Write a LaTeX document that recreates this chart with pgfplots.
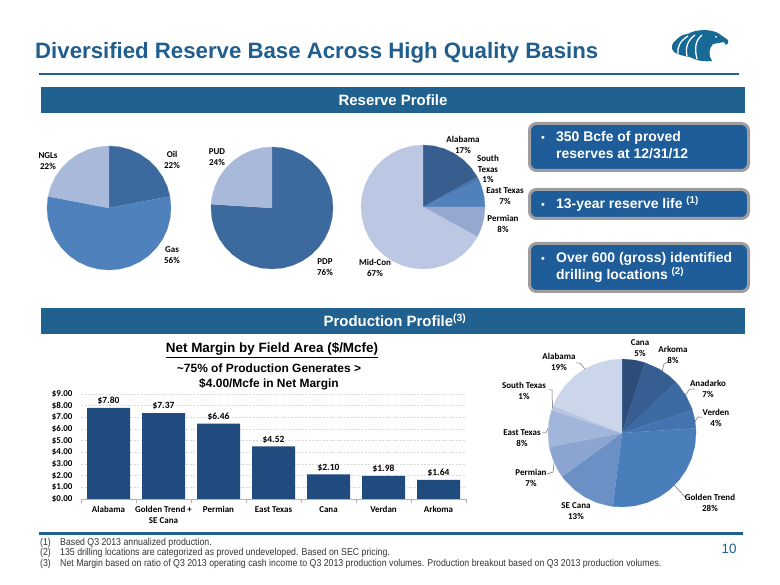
\documentclass[border=0pt]{standalone}
\usepackage{pgfplots}
\pgfplotsset{compat=1.18}
\usepackage{fontspec}
\setmainfont{Liberation Sans}
\newfontfamily\calfont{Carlito}
\newfontfamily\narrowfont{Liberation Sans}[FakeStretch=0.88]

\definecolor{titleblue}{HTML}{1F5E8E}
\definecolor{bannerblue}{HTML}{20618F}
\definecolor{logoblue}{HTML}{176996}
\definecolor{calloutblue}{HTML}{1F5D9A}
\definecolor{bordergray}{HTML}{9E9E9E}
\definecolor{barblue}{HTML}{1F4B7F}
% pie 1-3
\definecolor{pdark}{HTML}{3D6A9E}
\definecolor{pmid}{HTML}{4F81BD}
\definecolor{plight}{HTML}{A8B9DA}
\definecolor{pthree}{HTML}{385E90}
\definecolor{psouth}{HTML}{4A77AE}
\definecolor{pperm}{HTML}{95A8D0}
\definecolor{pmidcon}{HTML}{BCC8E3}
% pie 4
\definecolor{qa}{HTML}{2C4D7A}
\definecolor{qb}{HTML}{365E92}
\definecolor{qc}{HTML}{3C6AA3}
\definecolor{qd}{HTML}{4573B2}
\definecolor{qe}{HTML}{4A7EBB}
\definecolor{qf}{HTML}{6A90C6}
\definecolor{qg}{HTML}{8CA5D0}
\definecolor{qh}{HTML}{A2B5DA}
\definecolor{qi}{HTML}{B8C6E2}
\definecolor{qj}{HTML}{CCD6EA}

\pgfplotsset{
  pie/.style={scale only axis, hide axis, xmin=-1, xmax=1, ymin=-1, ymax=1,
    anchor=center, clip=false},
  wedge/.style={data cs=polar, fill=#1, draw=#1, line width=0.2bp, line join=round},
  leader/.style={data cs=polar, draw=black!60, line width=0.5bp},
}
\tikzset{plab/.style={font=\calfont\bfseries\fontsize{9}{10.5}\selectfont, align=center, inner sep=0pt}}

\begin{document}
\begin{tikzpicture}[x=1bp,y=1bp]
\fill[white] (0,0) rectangle (780,585);
\path[use as bounding box] (0,0) rectangle (780,585);

% title
\node[anchor=base west, inner sep=0, text=titleblue, font=\bfseries\fontsize{22.3}{26}\selectfont] at (35,526) {Diversified Reserve Base Across High Quality Basins};
% logo
\fill[logoblue] (676,545) .. controls (680,549) and (684,551) .. (688,551)
  .. controls (696,556) and (710,556) .. (718,552)
  -- (728,545) .. controls (729,543) and (728,541) .. (726,540) -- (724,543) -- (719,542) -- (713,541)
  .. controls (709,537) and (708,530) .. (712,524)
  .. controls (705,523) and (697,524) .. (690,528)
  .. controls (684,529) and (678,530) .. (674,533)
  .. controls (670,537) and (672,542) .. (676,545) -- cycle;
\draw[white, line width=1.3bp] (688,549) .. controls (680,544) and (677,538) .. (678,531);
\draw[white, line width=1.3bp] (695,550) .. controls (688,545) and (685,538) .. (687,529);
\draw[white, line width=1.3bp] (702,550) .. controls (696,545) and (694,538) .. (697,526);
\fill[white] (716,548) circle (1.0);

% rule under title
\draw[bannerblue, line width=2bp] (39,511) -- (739,511);

% banners
\fill[bannerblue] (41,498) rectangle (745,472);
\node[anchor=base, inner sep=0, text=white, font=\bfseries\fontsize{15}{18}\selectfont] at (393,479.5) {Reserve Profile};
\fill[bannerblue] (41,277) rectangle (745,251);
\node[anchor=base, inner sep=0, text=white, font=\bfseries\fontsize{15}{18}\selectfont] at (395,258.5) {Production Profile\textsuperscript{(3)}};

% ---------- Pie 1: Oil/Gas/NGLs
\begin{axis}[pie, at={(109bp,377bp)}, width=124bp, height=124bp]
\addplot[wedge=pdark] coordinates {(0,0)(90,1)(80,1)(70,1)(60,1)(50,1)(40,1)(30,1)(20,1)(10.8,1)};
\addplot[wedge=pmid] coordinates {(0,0)(10.8,1)(0,1)(-10,1)(-20,1)(-30,1)(-40,1)(-50,1)(-60,1)(-70,1)(-80,1)(-90,1)(-100,1)(-110,1)(-120,1)(-130,1)(-140,1)(-150,1)(-160,1)(-170,1)(-180,1)(-190,1)(-190.8,1)};
\addplot[wedge=plight] coordinates {(0,0)(169.2,1)(160,1)(150,1)(140,1)(130,1)(120,1)(110,1)(100,1)(90,1)};
\end{axis}
\node[plab] at (48,424) {NGLs\\22\%};
\node[plab] at (172,425) {Oil\\22\%};
\node[plab] at (172,330) {Gas\\56\%};

% ---------- Pie 2: PDP/PUD
\begin{axis}[pie, at={(272bp,377bp)}, width=122bp, height=122bp]
\addplot[wedge=pdark] coordinates {(0,0)(90,1)(80,1)(70,1)(60,1)(50,1)(40,1)(30,1)(20,1)(10,1)(0,1)(-10,1)(-20,1)(-30,1)(-40,1)(-50,1)(-60,1)(-70,1)(-80,1)(-90,1)(-100,1)(-110,1)(-120,1)(-130,1)(-140,1)(-150,1)(-160,1)(-170,1)(-180,1)(-183.6,1)};
\addplot[wedge=plight] coordinates {(0,0)(176.4,1)(170,1)(160,1)(150,1)(140,1)(130,1)(120,1)(110,1)(100,1)(90,1)};
\end{axis}
\node[plab] at (217,428) {PUD\\24\%};
\node[plab] at (325,318) {PDP\\76\%};

% ---------- Pie 3: regions
\begin{axis}[pie, at={(423bp,378bp)}, width=124bp, height=124bp]
\addplot[wedge=pthree] coordinates {(0,0)(90,1)(80,1)(70,1)(60,1)(50,1)(40,1)(30,1)(28.8,1)};
\addplot[wedge=psouth] coordinates {(0,0)(28.8,1)(25.2,1)};
\addplot[wedge=pmid] coordinates {(0,0)(25.2,1)(20,1)(10,1)(0,1)};
\addplot[wedge=pperm] coordinates {(0,0)(0,1)(-10,1)(-20,1)(-28.8,1)};
\addplot[wedge=pmidcon] coordinates {(0,0)(-28.8,1)(-30,1)(-40,1)(-50,1)(-60,1)(-70,1)(-80,1)(-90,1)(-100,1)(-110,1)(-120,1)(-130,1)(-140,1)(-150,1)(-160,1)(-170,1)(-180,1)(-190,1)(-200,1)(-210,1)(-220,1)(-230,1)(-240,1)(-250,1)(-260,1)(-270,1)};
\end{axis}
\node[plab] at (463,440) {Alabama\\17\%};
\node[plab] at (488,416) {South\\Texas\\1\%};
\node[plab] at (505,389) {East Texas\\7\%};
\node[plab] at (503,361) {Permian\\8\%};
\node[plab] at (375,317) {Mid-Con\\67\%};

% ---------- callouts
\draw[bordergray, line width=3bp, fill=calloutblue, rounded corners=7bp] (529.5,461.5) rectangle (748.5,414.5);
\draw[bordergray, line width=3bp, fill=calloutblue, rounded corners=7bp] (529.5,395.5) rectangle (748.5,366.5);
\draw[bordergray, line width=3bp, fill=calloutblue, rounded corners=7bp] (529.5,341.5) rectangle (748.5,293.5);
\begin{scope}[every node/.style={anchor=base west, inner sep=0, text=white, font=\bfseries\fontsize{14}{17}\selectfont}]
\node[font=\fontsize{11}{13}\selectfont] at (541,443) {\textbullet};
\node at (556,443) {350 Bcfe of proved};
\node at (556,426) {reserves at 12/31/12};
\node[font=\fontsize{11}{13}\selectfont] at (541,376) {\textbullet};
\node at (556,376) {13-year reserve life \textsuperscript{(1)}};
\node[font=\fontsize{11}{13}\selectfont] at (541,322.5) {\textbullet};
\node at (556,322.5) {Over 600 (gross) identified};
\node at (556,305.5) {drilling locations \textsuperscript{(2)}};
\end{scope}

% ---------- bar chart headings
\node[anchor=base, inner sep=0, font=\bfseries\fontsize{13.5}{16}\selectfont] at (272,232.3) {\underline{Net Margin by Field Area (\$/Mcfe)}};
\node[anchor=base, inner sep=0, font=\bfseries\fontsize{12}{14}\selectfont] at (269,212.3) {\textasciitilde75\% of Production Generates >};
\node[anchor=base, inner sep=0, font=\bfseries\fontsize{12}{14}\selectfont] at (269,197.7) {\$4.00/Mcfe in Net Margin};

% ---------- bar chart
\begin{axis}[at={(81bp,86bp)}, anchor=south west, scale only axis, width=385bp, height=105bp,
  xmin=-0.5, xmax=6.5, ymin=0, ymax=9,
  axis lines*=left,
  y axis line style={draw=none},
  x axis line style={draw=black!30, line width=0.8bp},
  ytick={0,1,2,3,4,5,6,7,8,9},
  yticklabels={\$0.00,\$1.00,\$2.00,\$3.00,\$4.00,\$5.00,\$6.00,\$7.00,\$8.00,\$9.00},
  xtick={0,1,2,3,4,5,6},
  xticklabels={Alabama,{Golden Trend +\\SE Cana},Permian,East Texas,Cana,Verdan,Arkoma},
  minor xtick={-0.5,0.5,1.5,2.5,3.5,4.5,5.5,6.5},
  major tick length=0pt, minor tick length=4bp, tick align=outside,
  minor tick style={draw=black!30, line width=0.6bp},
  ymajorgrids, major grid style={draw=black!15, dash pattern=on 2bp off 1.5bp, line width=0.5bp},
  ticklabel style={font=\calfont\bfseries\fontsize{9}{10.5}\selectfont},
  xticklabel style={align=center, yshift=-4bp},
  yticklabel style={xshift=-5bp},
  ybar, bar width=43bp,
  nodes near coords={\$\pgfmathprintnumber[fixed,fixed zerofill,precision=2,assume math mode=true]{\pgfplotspointmeta}},
  every node near coord/.append style={font=\calfont\bfseries\fontsize{9.5}{11}\selectfont, text=black, inner sep=3bp},
]
\addplot[fill=barblue, draw=none] coordinates {(0,7.80)(1,7.37)(2,6.46)(3,4.52)(4,2.10)(5,1.98)(6,1.64)};
\end{axis}

% ---------- Pie 4: production
\begin{axis}[pie, at={(622bp,152bp)}, width=148bp, height=148bp]
\addplot[wedge=qa] coordinates {(0,0)(90,1)(80,1)(72,1)};
\addplot[wedge=qb] coordinates {(0,0)(72,1)(60,1)(50,1)(43.2,1)};
\addplot[wedge=qc] coordinates {(0,0)(43.2,1)(40,1)(30,1)(20,1)(18,1)};
\addplot[wedge=qd] coordinates {(0,0)(18,1)(10,1)(3.6,1)};
\addplot[wedge=qe] coordinates {(0,0)(3.6,1)(0,1)(-10,1)(-20,1)(-30,1)(-40,1)(-50,1)(-60,1)(-70,1)(-80,1)(-90,1)(-97.2,1)};
\addplot[wedge=qf] coordinates {(0,0)(-97.2,1)(-100,1)(-110,1)(-120,1)(-130,1)(-140,1)(-144,1)};
\addplot[wedge=qg] coordinates {(0,0)(-144,1)(-150,1)(-160,1)(-169.2,1)};
\addplot[wedge=qh] coordinates {(0,0)(-169.2,1)(-170,1)(-180,1)(-190,1)(-198,1)};
\addplot[wedge=qi] coordinates {(0,0)(-198,1)(-201.6,1)};
\addplot[wedge=qj] coordinates {(0,0)(-201.6,1)(-210,1)(-220,1)(-230,1)(-240,1)(-250,1)(-260,1)(-270,1)};
\addplot[leader] coordinates {(57,1.0)(58.7,1.09)(57.1,1.14)};
\addplot[leader] coordinates {(31,1.0)(33,1.09)(31,1.15)};
\addplot[leader] coordinates {(9,1.0)(12,1.05)(11,1.10)};
\addplot[leader] coordinates {(-45,1.0)(-45.4,1.21)(-43.3,1.26)};
\addplot[leader] coordinates {(120,1.0)(121,1.10)(123,1.13)};
\addplot[leader] coordinates {(160.2,1.0)(148.4,1.11)(149.5,1.145)};
\addplot[leader] coordinates {(176.4,1.0)(180,1.03)(180,1.08)};
\addplot[leader] coordinates {(203.4,1.0)(209.5,1.07)(208.7,1.16)};
\end{axis}
\node[plab] at (640,237) {Cana\\5\%};
\node[plab] at (673,230) {Arkoma\\8\%};
\node[plab] at (708,196) {Anadarko\\7\%};
\node[plab] at (716,167) {Verden\\4\%};
\node[plab] at (710,82) {Golden Trend\\28\%};
\node[plab] at (576,74) {SE Cana\\13\%};
\node[plab] at (531,107) {Permian\\7\%};
\node[plab] at (522,147) {East Texas\\8\%};
\node[plab] at (524,194) {South Texas\\1\%};
\node[plab] at (559,223) {Alabama\\19\%};

% ---------- footnotes
\draw[bannerblue, line width=3bp] (39,51) -- (743,51);
\begin{scope}[every node/.style={anchor=base west, inner sep=0, text=black!80, font=\narrowfont\fontsize{10}{12}\selectfont}]
\node at (40,39.5) {(1)};
\node at (60,39.5) {Based Q3 2013 annualized production.};
\node at (40,29) {(2)};
\node at (60,29) {135 drilling locations are categorized as proved undeveloped. Based on SEC pricing.};
\node at (40,18.5) {(3)};
\node at (60,18.5) {Net Margin based on ratio of Q3 2013 operating cash income to Q3 2013 production volumes. Production breakout based on Q3 2013 production volumes.};
\end{scope}
\node[anchor=base, inner sep=0, text=bannerblue, font=\fontsize{13.5}{16}\selectfont] at (729,31) {10};
\end{tikzpicture}
\end{document}
